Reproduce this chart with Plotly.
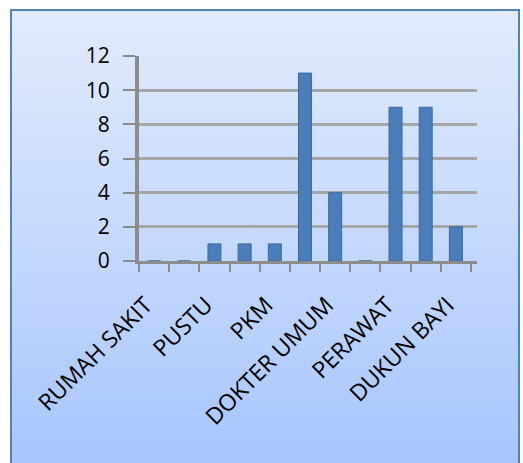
import plotly.graph_objects as go

categories = ["RUMAH SAKIT", "PUSKESMAS", "PUSTU", "POLINDES", "PKM", "POSYANDU",
              "DOKTER UMUM", "DOKTER GIGI", "PERAWAT", "BIDAN", "DUKUN BAYI"]
values = [0, 0, 1, 1, 1, 11, 4, 0, 9, 9, 2]
y_ticks = [0, 2, 4, 6, 8, 10, 12]

W, H = 523, 463
PAD = "\u00a0\u00a0"
tick_text = [c + PAD if i % 2 == 0 else "" for i, c in enumerate(categories)]

fig = go.Figure()
fig.add_trace(go.Bar(
    x=categories, y=values,
    marker=dict(color="#4A7EBB", line=dict(color="#3B689E", width=1)),
    showlegend=False,
))

def px_x(p):
    return p / W

def px_y(p):
    return (H - p) / H

svg = ("data:image/svg+xml;utf8,<svg xmlns='http://www.w3.org/2000/svg' width='100' height='100' "
       "viewBox='0 0 100 100' preserveAspectRatio='none'><defs><linearGradient id='g' x1='0' y1='0' x2='0' y2='1'>"
       "<stop offset='0' stop-color='%23E1EBFC'/><stop offset='0.5' stop-color='%23C5D9FD'/>"
       "<stop offset='1' stop-color='%23A6C5FC'/></linearGradient></defs>"
       "<rect width='100' height='100' fill='url(%23g)'/></svg>")

fig.update_layout(
    template="none",
    width=W, height=H,
    margin=dict(l=0, r=0, t=0, b=0, autoexpand=False),
    paper_bgcolor="white",
    plot_bgcolor="rgba(0,0,0,0)",
    font=dict(family="Open Sans, Arial", color="black"),
    bargap=0.57,
    images=[dict(source=svg, xref="paper", yref="paper",
                 x=px_x(11), y=px_y(10), sizex=px_x(519) - px_x(11), sizey=px_y(10) - px_y(470),
                 sizing="stretch", xanchor="left", yanchor="top", layer="below")],
    shapes=[dict(type="rect", xref="paper", yref="paper",
                 x0=px_x(11), x1=px_x(519), y0=px_y(470), y1=px_y(10),
                 line=dict(color="#4F81BD", width=2), fillcolor="rgba(0,0,0,0)", layer="below")],
    xaxis=dict(
        automargin=False,
        domain=[px_x(139), px_x(477)],
        range=[-0.5, 10.7],
        tickmode="array", tickvals=categories, ticktext=tick_text,
        tickson="boundaries", ticks="outside", ticklen=8, tickwidth=2, tickcolor="#8C8C8C",
        showline=True, linecolor="#8C8C8C", linewidth=3,
        tickangle=-45, tickfont=dict(size=23),
        ticklabelstandoff=10,
        showgrid=False, zeroline=False,
    ),
    yaxis=dict(
        automargin=False,
        domain=[px_y(261), px_y(56)],
        range=[0, 12],
        tickmode="array", tickvals=y_ticks,
        ticks="outside", ticklen=12, tickwidth=2, tickcolor="#8C8C8C",
        showline=True, linecolor="#8C8C8C", linewidth=4,
        showgrid=True, gridcolor="#A6A6A6", gridwidth=3,
        zeroline=False,
        tickfont=dict(size=21),
        ticklabelstandoff=9,
    ),
)

fig.write_html(
    "out.html",
    config={"displayModeBar": False},
    post_script="document.body.style.margin='0px';document.body.style.overflow='hidden';",
)
